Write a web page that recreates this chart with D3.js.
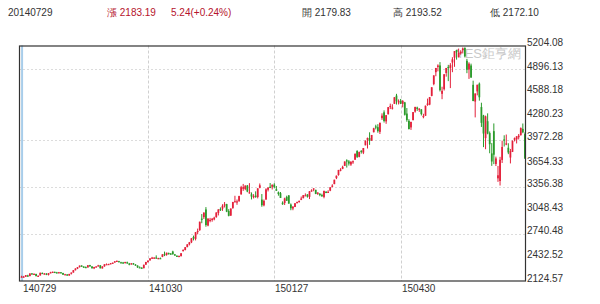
<!DOCTYPE html>
<html><head><meta charset="utf-8">
<script src="https://cdn.jsdelivr.net/npm/d3@7/dist/d3.min.js"></script>
<style>
html,body{margin:0;padding:0;background:#fff;}
svg{display:block;}
text{font-family:"Liberation Sans",Arial,sans-serif;}
</style></head>
<body><svg id="c" width="600" height="304"></svg>
<script>
const dates = ["140729","140730","140731","140801","140804","140805","140806","140807","140808","140811","140812","140813","140814","140815","140818","140819","140820","140821","140822","140825","140826","140827","140828","140829","140901","140902","140903","140904","140905","140909","140910","140911","140912","140915","140916","140917","140918","140919","140922","140923","140924","140925","140926","140929","140930","141008","141009","141010","141013","141014","141015","141016","141017","141020","141021","141022","141023","141024","141027","141028","141029","141030","141031","141103","141104","141105","141106","141107","141110","141111","141112","141113","141114","141117","141118","141119","141120","141121","141124","141125","141126","141127","141128","141201","141202","141203","141204","141205","141208","141209","141210","141211","141212","141215","141216","141217","141218","141219","141222","141223","141224","141225","141226","141229","141230","141231","150105","150106","150107","150108","150109","150112","150113","150114","150115","150116","150119","150120","150121","150122","150123","150126","150127","150128","150129","150130","150202","150203","150204","150205","150206","150209","150210","150211","150212","150213","150216","150217","150225","150226","150227","150302","150303","150304","150305","150306","150309","150310","150311","150312","150313","150316","150317","150318","150319","150320","150323","150324","150325","150326","150327","150330","150331","150401","150402","150403","150407","150408","150409","150410","150413","150414","150415","150416","150417","150420","150421","150422","150423","150424","150427","150428","150429","150430","150504","150505","150506","150507","150508","150511","150512","150513","150514","150515","150518","150519","150520","150521","150522","150525","150526","150527","150528","150529","150601","150602","150603","150604","150605","150608","150609","150610","150611","150612","150615","150616","150617","150618","150619","150623","150624","150625","150626","150629","150630","150701","150702","150703","150706","150707","150708","150709","150710","150713","150714","150715","150716","150717","150720","150721","150722","150723","150724","150727"];
const opens = [2179.83,2182,2180,2197,2188,2224,2217,2216,2185,2197,2230,2220,2223,2204,2227,2240,2244,2238,2231,2239,2229,2207,2211,2196,2219,2235,2265,2285,2307,2326,2313,2307,2302,2333,2314,2290,2305,2317,2330,2289,2315,2344,2344,2349,2358,2370,2382,2384,2370,2367,2358,2370,2353,2342,2356,2340,2326,2304,2300,2292,2338,2372,2394,2425,2430,2432,2416,2424,2440,2475,2465,2492,2484,2510,2473,2455,2448,2450,2515,2530,2568,2604,2630,2700,2675,2770,2790,2940,2960,3060,2850,2920,2924,2930,2960,3015,3065,3070,3120,3130,3040,2980,3080,3168,3161,3172,3258,3330,3327,3372,3276,3259,3223,3242,3223,3344,3189,3114,3189,3318,3357,3357,3384,3325,3285,3273,3148,3144,3224,3243,3124,3073,3093,3145,3157,3186,3208,3246,3256,3225,3302,3332,3317,3264,3264,3248,3224,3290,3289,3306,3363,3391,3470,3510,3575,3592,3630,3703,3688,3648,3685,3710,3824,3748,3827,3803,3899,3970,3993,3960,4070,4146,4136,4075,4254,4330,4212,4304,4414,4382,4441,4549,4470,4483,4441,4460,4314,4218,4133,4228,4340,4393,4372,4368,4282,4285,4426,4431,4545,4700,4855,4924,4943,4572,4633,4845,4924,4912,4982,5046,5145,5050,5101,5144,5175,5004,4890,4943,4690,4471,4604,4705,4399,4289,3993,4214,4059,3793,4084,3655,3467,3432,3708,3976,3912,3867,3739,3813,3971,3977,4004,4031,4114,4046];
const highs = [2193.52,2191,2203,2206,2224,2228,2223,2220,2196,2234,2236,2228,2226,2228,2245,2248,2247,2244,2243,2242,2232,2218,2214,2218,2236,2267,2290,2307,2327,2331,2318,2315,2332,2336,2320,2310,2317,2336,2331,2317,2344,2354,2350,2360,2366,2385,2391,2388,2376,2374,2376,2378,2361,2358,2360,2345,2330,2315,2303,2338,2375,2393,2423,2440,2435,2460,2428,2432,2475,2509,2495,2495,2490,2520,2478,2460,2458,2490,2535,2568,2605,2635,2685,2718,2765,2810,2900,3000,3020,3091,2945,2950,2949,2965,3021,3062,3087,3128,3157,3134,3064,3074,3160,3239,3190,3239,3369,3394,3374,3380,3404,3283,3260,3297,3337,3400,3262,3190,3337,3353,3406,3387,3403,3367,3295,3288,3166,3214,3240,3249,3139,3104,3143,3163,3175,3229,3248,3270,3260,3300,3324,3336,3317,3286,3275,3266,3307,3301,3311,3352,3390,3449,3503,3577,3600,3632,3688,3716,3705,3693,3701,3795,3835,3817,3835,3864,3961,4000,4069,4034,4128,4168,4175,4194,4317,4356,4294,4400,4444,4436,4529,4572,4499,4505,4489,4467,4386,4241,4207,4334,4402,4404,4384,4372,4311,4418,4510,4531,4658,4814,4911,4958,4987,4665,4829,4911,4951,4973,5051,5131,5147,5164,5142,5178,5176,5029,4985,4967,4744,4577,4691,4720,4456,4297,4287,4317,4080,3928,4185,3751,3629,3748,3959,4030,4040,3926,3851,3961,4001,4017,4047,4133,4184,4068];
const lows = [2172.10,2174,2178,2180,2188,2211,2205,2186,2177,2196,2218,2209,2201,2197,2226,2232,2234,2225,2225,2226,2205,2204,2193,2194,2210,2234,2263,2280,2300,2312,2297,2298,2300,2313,2288,2280,2302,2315,2290,2288,2312,2338,2335,2344,2352,2362,2375,2370,2356,2352,2355,2350,2330,2339,2338,2325,2296,2298,2285,2290,2336,2366,2392,2418,2420,2416,2410,2412,2436,2450,2455,2470,2469,2470,2454,2440,2440,2445,2510,2525,2565,2590,2620,2655,2655,2735,2780,2880,2935,2834,2840,2892,2900,2918,2952,2982,3040,3042,3086,3025,2970,2975,3068,3154,3121,3158,3253,3303,3312,3285,3267,3191,3204,3213,3205,3337,3095,3101,3189,3296,3339,3321,3337,3304,3240,3210,3121,3118,3172,3136,3050,3050,3091,3141,3149,3182,3205,3237,3215,3196,3292,3298,3260,3250,3233,3226,3206,3276,3282,3299,3350,3391,3457,3502,3559,3587,3630,3608,3634,3630,3656,3710,3733,3742,3790,3784,3899,3857,3905,3958,4068,4107,4064,4047,4231,4197,4180,4304,4373,4367,4441,4432,4433,4438,4395,4288,4207,4106,4100,4226,4326,4349,4336,4289,4252,4285,4415,4423,4540,4684,4802,4866,4603,4502,4615,4797,4738,4647,4855,4925,5019,5049,5084,5100,5048,4842,4767,4780,4476,4264,4552,4483,4139,3875,3848,4043,3795,3630,3653,3628,3421,3373,3668,3883,3900,3783,3662,3811,3950,3923,3976,4027,4057,3725];
const closes = [2183.19,2182,2201,2185,2223,2222,2219,2188,2194,2232,2222,2223,2206,2226,2239,2245,2240,2233,2240,2229,2207,2213,2195,2217,2235,2266,2288,2306,2326,2318,2307,2304,2331,2315,2291,2307,2315,2329,2290,2315,2343,2345,2347,2357,2364,2382,2389,2374,2367,2359,2373,2356,2341,2356,2340,2326,2302,2302,2290,2337,2373,2391,2420,2430,2430,2419,2425,2418,2473,2469,2495,2485,2478,2474,2457,2450,2452,2487,2533,2567,2604,2630,2683,2680,2763,2779,2900,2937,3020,2856,2940,2925,2938,2953,3021,3061,3058,3108,3127,3032,2977,3072,3157,3168,3166,3235,3351,3352,3373,3294,3285,3229,3235,3222,3336,3376,3116,3173,3323,3343,3351,3383,3352,3305,3262,3210,3128,3204,3174,3136,3076,3095,3141,3157,3173,3203,3247,3246,3228,3298,3310,3336,3263,3280,3248,3241,3302,3286,3291,3350,3372,3449,3502,3577,3582,3617,3687,3691,3660,3682,3691,3786,3748,3810,3825,3863,3961,3995,3957,4034,4121,4135,4084,4194,4287,4217,4293,4398,4414,4393,4527,4476,4476,4442,4480,4298,4229,4112,4205,4333,4401,4375,4378,4308,4283,4417,4446,4529,4658,4813,4910,4942,4620,4611,4828,4910,4910,4947,5023,5131,5113,5106,5121,5166,5062,4887,4967,4786,4478,4577,4691,4527,4193,4053,4277,4054,3913,3687,3776,3727,3507,3710,3877,3970,3924,3805,3823,3958,3992,4017,4026,4124,4070,3725];
const yTicks = [5204.08,4896.13,4588.18,4280.23,3972.28,3654.33,3356.38,3048.43,2740.48,2432.52,2124.57];
const yGrid = [4896.13,3972.28,3356.38,2740.48];
const xTicks = ["140729","141030","150127","150430"];
const cursorDate = "140729";
const header = {date:"20140729", change:"漲 2183.19", pct:"5.24(+0.24%)", open:"開 2179.83", high:"高 2193.52", low:"低 2172.10"};
const watermark = "YES鉅亨網";

const L=19, R=526, T=45.5, B=281;
const svg = d3.select("#c");
const n = dates.length;
const x = d3.scaleBand().domain(d3.range(n)).range([20.5, R]).paddingInner(0.15).paddingOuter(0.1);
const xc = i => x(i) + x.bandwidth()/2;
const y = d3.scaleLinear().domain([2124.57, 5204.08]).range([B, T]);

// gridlines
svg.append("g").selectAll("line").data(yGrid).join("line")
  .attr("x1", L).attr("x2", R).attr("y1", d=>Math.round(y(d))+0.5).attr("y2", d=>Math.round(y(d))+0.5)
  .attr("stroke","#dcdcdc").attr("stroke-dasharray","2,2");
svg.append("g").selectAll("line").data(xTicks.slice(1)).join("line")
  .attr("x1", d=>Math.round(xc(dates.indexOf(d)))+0.5).attr("x2", d=>Math.round(xc(dates.indexOf(d)))+0.5)
  .attr("y1", T).attr("y2", B).attr("stroke","#d0d0d0").attr("stroke-dasharray","3,2");

// watermark
svg.append("text").attr("x",521).attr("y",58).attr("text-anchor","end")
  .attr("font-size",13).attr("fill","#c8c8c8").attr("font-family","'Noto Sans CJK TC','Liberation Sans',sans-serif").text(watermark);

// cursor line
const cx = xc(dates.indexOf(cursorDate));
svg.append("line").attr("x1",cx+0.5).attr("x2",cx+0.5).attr("y1",T).attr("y2",B)
  .attr("stroke","#a8cdea").attr("stroke-width",2);

// candles
const idx = d3.range(n);
const col = i => closes[i] >= opens[i] ? "#e3203a" : "#2a9a2a";
const g = svg.append("g");
g.selectAll("line").data(idx).join("line")
  .attr("x1", i=>xc(i)).attr("x2", i=>xc(i))
  .attr("y1", i=>y(highs[i])).attr("y2", i=>y(lows[i]))
  .attr("stroke", col).attr("stroke-width",1);
g.selectAll("rect").data(idx).join("rect")
  .attr("x", i=>x(i)).attr("width", x.bandwidth())
  .attr("y", i=>y(Math.max(opens[i],closes[i])))
  .attr("height", i=>Math.max(1.2, Math.abs(y(opens[i])-y(closes[i]))))
  .attr("fill", col);

// frame
svg.append("rect").attr("x",L+0.5).attr("y",T+0.5).attr("width",R-L-1).attr("height",B-T-0.5)
  .attr("fill","none").attr("stroke","#333").attr("stroke-width",1.2);

// right axis labels
svg.append("g").selectAll("text").data(yTicks).join("text")
  .attr("x", 527).attr("y", d=>y(d)+0.5).attr("font-size",10).attr("fill","#333")
  .text(d=>d3.format(".2f")(d));

// x labels
svg.append("g").selectAll("text").data(xTicks).join("text")
  .attr("x", d=>Math.round(xc(dates.indexOf(d)))+1).attr("y", 292).attr("font-size",10).attr("fill","#333")
  .text(d=>d);

// header
const hf = "'Liberation Sans','Noto Sans CJK TC',sans-serif";
const hd = [[8,header.date,"#333"],[107,header.change,"#b5142c"],[171,header.pct,"#b5142c"],[302,header.open,"#333"],[393,header.high,"#333"],[490,header.low,"#333"]];
svg.append("g").selectAll("text").data(hd).join("text")
  .attr("x",d=>d[0]).attr("y",16).attr("font-size",10).attr("fill",d=>d[2]).attr("font-family",hf).text(d=>d[1]);
</script></body></html>
